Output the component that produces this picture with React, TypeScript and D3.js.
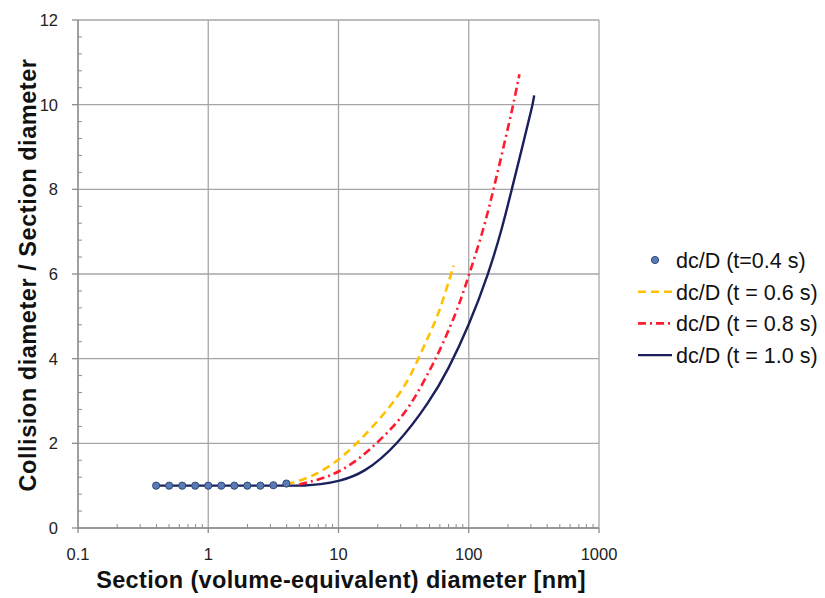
import React from "react";
import * as d3 from "d3";

const dotX = [0.398, 0.501, 0.631, 0.794, 1.0, 1.259, 1.585, 1.995, 2.512, 3.162, 3.981];
const dotY = [1.0, 1.0, 1.0, 1.0, 1.0, 1.0, 1.0, 1.0, 1.0, 1.01, 1.05];

const t06X = [4.0, 5.5, 7.2, 10, 13, 17.5, 25, 33.5, 41.1, 47.7, 56.9, 66, 76.5];
const t06Y = [1.03, 1.15, 1.32, 1.6, 1.92, 2.32, 2.87, 3.42, 4.0, 4.45, 4.95, 5.55, 6.2];

const t08X = [5.0, 7.2, 10, 14.7, 20.9, 29.8, 40, 50.6, 58, 81, 101, 130, 155, 185, 220, 245];
const t08Y = [1.03, 1.15, 1.31, 1.65, 2.08, 2.56, 3.15, 3.75, 4.1, 5.1, 6.0, 7.05, 8.0, 9.0, 10.0, 10.72];

const t10X = [0.4, 1, 2, 4, 5.5, 7.2, 10, 15.6, 28, 50.6, 69.8, 100, 141.6, 179.5, 214, 260, 310, 318];
const t10Y = [1.0, 1.0, 1.0, 1.0, 1.0, 1.03, 1.1, 1.29, 1.94, 3.0, 3.75, 4.77, 6.0, 7.05, 8.0, 9.05, 10.0, 10.22];

const xTicks = [0.1, 1, 10, 100, 1000];
const xTickLabels = ["0.1", "1", "10", "100", "1000"];
const yTicks = [0, 2, 4, 6, 8, 10, 12];

const legendLabels = ["dc/D (t=0.4 s)", "dc/D (t = 0.6 s)", "dc/D (t = 0.8 s)", "dc/D (t = 1.0 s)"];

const W = 825;
const H = 598;
const L = 78, R = 599, T = 20, B = 528;

const NAVY = "#1b1f5c";
const RED = "#ff1a2e";
const YELLOW = "#ffc000";
const DOT_FILL = "#5a7bb5";
const DOT_STROKE = "#2e4a7a";
const FONT = "'Liberation Sans', Arial, sans-serif";

export default function App() {
  const x = d3.scaleLog().domain([0.1, 1000]).range([L, R]);
  const y = d3.scaleLinear().domain([0, 12]).range([B, T]);

  const line = d3
    .line<[number, number]>()
    .x((d) => x(d[0]))
    .y((d) => y(d[1]))
    .curve(d3.curveBasis);

  const zip = (a: number[], b: number[]) => a.map((v, i) => [v, b[i]] as [number, number]);

  const minorX: number[] = [];
  for (let e = -1; e < 3; e++) {
    for (let m = 2; m <= 9; m++) minorX.push(m * Math.pow(10, e));
  }
  const minorY: number[] = [];
  for (let v = 0; v < 12; v += 0.4) {
    const r = Math.round(v * 10) / 10;
    if (Math.abs(r % 2) > 1e-6) minorY.push(r);
  }

  const legendX = 655;
  const legendY0 = 260;
  const legendDy = 31.7;

  return (
    <svg width={W} height={H} style={{ position: "absolute", left: 0, top: 0, background: "#fff" }}>
      <rect x={0} y={0} width={W} height={H} fill="#fff" />
      {/* gridlines */}
      {xTicks.map((t) => (
        <line key={"gx" + t} x1={x(t)} x2={x(t)} y1={T} y2={B} stroke="#a6a6a6" strokeWidth={1.3} />
      ))}
      {yTicks.map((t) => (
        <line key={"gy" + t} x1={L} x2={R} y1={y(t)} y2={y(t)} stroke="#a6a6a6" strokeWidth={1.3} />
      ))}
      {/* axes */}
      <line x1={L} x2={L} y1={T} y2={B} stroke="#8c8c8c" strokeWidth={1.3} />
      <line x1={L} x2={R} y1={B} y2={B} stroke="#8c8c8c" strokeWidth={1.3} />
      {xTicks.map((t) => (
        <line key={"tx" + t} x1={x(t)} x2={x(t)} y1={B} y2={B + 5} stroke="#8c8c8c" strokeWidth={1.3} />
      ))}
      {yTicks.map((t) => (
        <line key={"ty" + t} x1={L - 6} x2={L} y1={y(t)} y2={y(t)} stroke="#8c8c8c" strokeWidth={1.3} />
      ))}
      {minorX.map((t) => (
        <line key={"mx" + t} x1={x(t)} x2={x(t)} y1={B - 4} y2={B} stroke="#8c8c8c" strokeWidth={1} />
      ))}
      {minorY.map((t) => (
        <line key={"my" + t} x1={L} x2={L + 4} y1={y(t)} y2={y(t)} stroke="#8c8c8c" strokeWidth={1} />
      ))}
      {/* tick labels */}
      {xTicks.map((t, i) => (
        <text key={"lx" + t} x={x(t)} y={560} textAnchor="middle" fontFamily={FONT} fontSize={16.5} fill="#222">
          {xTickLabels[i]}
        </text>
      ))}
      {yTicks.map((t) => (
        <text key={"ly" + t} x={58} y={y(t) + 6} textAnchor="end" fontFamily={FONT} fontSize={16.5} fill="#222">
          {t}
        </text>
      ))}
      {/* series */}
      <path d={line(zip(t10X, t10Y)) || ""} fill="none" stroke={NAVY} strokeWidth={2.4} />
      <path d={line(zip(t08X, t08Y)) || ""} fill="none" stroke={RED} strokeWidth={2.6} strokeDasharray="8 4 2 4" />
      <path d={line(zip(t06X, t06Y)) || ""} fill="none" stroke={YELLOW} strokeWidth={2.6} strokeDasharray="8 5" />
      {dotX.map((v, i) => (
        <circle key={"d" + i} cx={x(v)} cy={y(dotY[i])} r={3.6} fill={DOT_FILL} stroke={DOT_STROKE} strokeWidth={1} />
      ))}
      {/* axis titles */}
      <text x={341} y={588} textAnchor="middle" fontFamily={FONT} fontWeight="bold" fontSize={23.5} letterSpacing={0.35} fill="#111">
        Section (volume-equivalent) diameter [nm]
      </text>
      <text
        transform="translate(36,275) rotate(-90)"
        textAnchor="middle"
        fontFamily={FONT}
        fontWeight="bold"
        fontSize={23.5}
        letterSpacing={0.55}
        fill="#111"
      >
        Collision diameter / Section diameter
      </text>
      {/* legend */}
      <circle cx={legendX} cy={legendY0} r={3.6} fill={DOT_FILL} stroke={DOT_STROKE} strokeWidth={1} />
      <line x1={638} x2={672} y1={legendY0 + legendDy} y2={legendY0 + legendDy} stroke={YELLOW} strokeWidth={2.6} strokeDasharray="8 5" />
      <line x1={638} x2={672} y1={legendY0 + 2 * legendDy} y2={legendY0 + 2 * legendDy} stroke={RED} strokeWidth={2.6} strokeDasharray="8 4 2 4" />
      <line x1={638} x2={672} y1={legendY0 + 3 * legendDy} y2={legendY0 + 3 * legendDy} stroke={NAVY} strokeWidth={2.4} />
      {legendLabels.map((s, i) => (
        <text key={"lg" + i} x={676} y={legendY0 + i * legendDy + 8} fontFamily={FONT} fontSize={21.5} fill="#111">
          {s}
        </text>
      ))}
    </svg>
  );
}
